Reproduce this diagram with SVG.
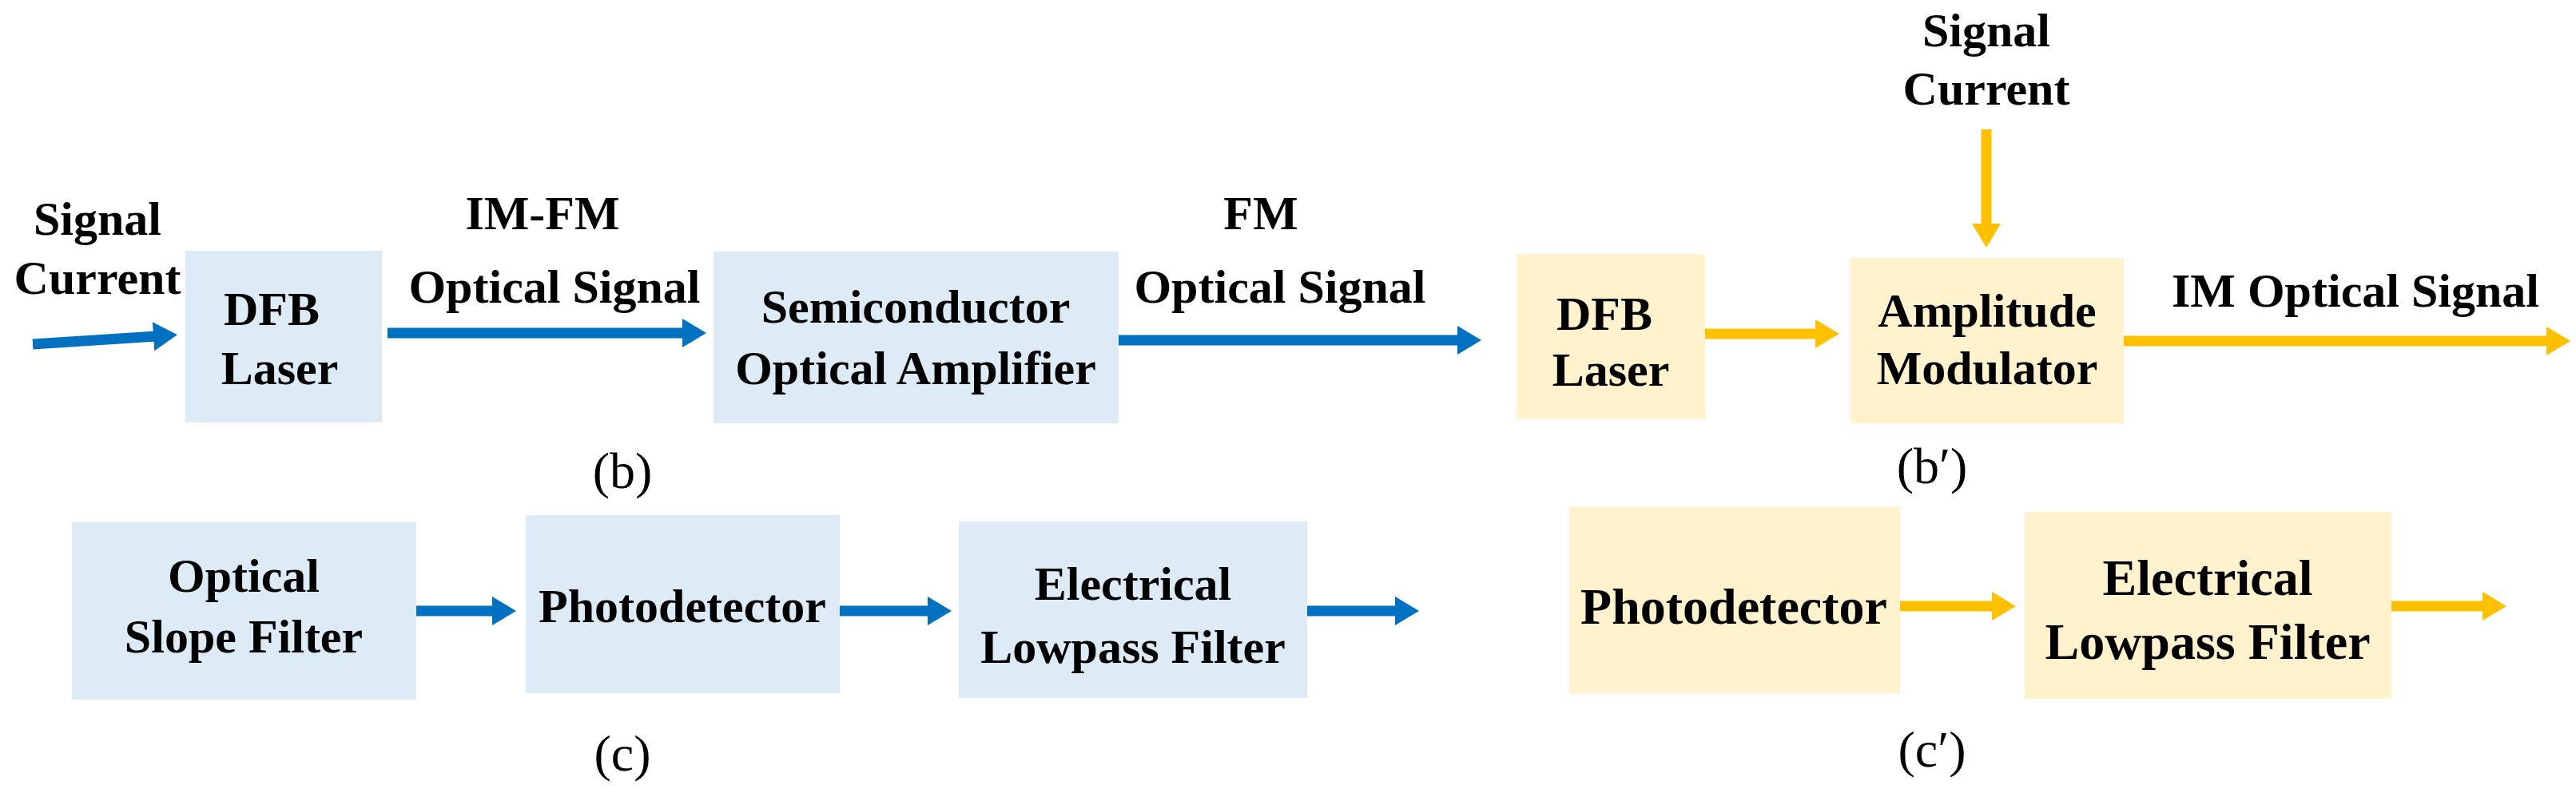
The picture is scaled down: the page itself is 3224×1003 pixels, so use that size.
<svg xmlns="http://www.w3.org/2000/svg" width="3224" height="1003" viewBox="0 0 3224 1003">
<style>
text{font-family:"Liberation Serif","Times New Roman",serif;font-weight:bold;font-size:60px;fill:#000;text-anchor:middle}
.lab{font-weight:normal;font-size:64px}
.bb{fill:#DDEBF7}
.yb{fill:#FFF2CC}
.ba{stroke:#0070C0;stroke-width:13;fill:none;marker-end:url(#mb)}
.ya{stroke:#FFC000;stroke-width:13;fill:none;marker-end:url(#my)}
</style>
<defs>
<marker id="mb" markerUnits="userSpaceOnUse" markerWidth="40" markerHeight="50" refX="4" refY="25" orient="auto"><polygon points="0,7 30,25 0,43" fill="#0070C0"/></marker>
<marker id="my" markerUnits="userSpaceOnUse" markerWidth="40" markerHeight="50" refX="4" refY="25" orient="auto"><polygon points="0,7 30,25 0,43" fill="#FFC000"/></marker>
</defs>
<rect width="3224" height="1003" fill="#fff"/>
<g id="dfb1"><rect class="bb" x="232" y="314" width="246" height="215"/><text x="340" y="407">DFB</text><text x="350" y="481">Laser</text></g>
<g id="soa"><rect class="bb" x="893" y="315" width="507" height="215"/><text x="1146" y="404">Semiconductor</text><text x="1146" y="481">Optical Amplifier</text></g>
<g id="osf"><rect class="bb" x="90" y="654" width="431" height="222"/><text x="305" y="741">Optical</text><text x="305" y="817">Slope Filter</text></g>
<g id="pd1"><rect class="bb" x="658" y="645" width="393" height="223"/><text x="854" y="779">Photodetector</text></g>
<g id="elf1"><rect class="bb" x="1200" y="653" width="436" height="221"/><text x="1418" y="751">Electrical</text><text x="1418" y="830">Lowpass Filter</text></g>
<g id="dfb2"><rect class="yb" x="1898" y="318" width="236" height="207"/><text x="2008" y="413">DFB</text><text x="2016" y="483">Laser</text></g>
<g id="am"><rect class="yb" x="2316" y="323" width="342" height="207"/><text x="2487" y="409">Amplitude</text><text x="2487" y="481">Modulator</text></g>
<g id="pd2"><rect class="yb" x="1964" y="635" width="414" height="233"/><text x="2170" y="781" style="font-size:64px">Photodetector</text></g>
<g id="elf2"><rect class="yb" x="2534" y="641" width="459" height="234"/><text x="2763" y="745" style="font-size:64px">Electrical</text><text x="2763" y="825" style="font-size:64px">Lowpass Filter</text></g>
<g id="labels">
<text x="122" y="294">Signal</text><text x="122" y="368">Current</text>
<text x="679" y="287">IM-FM</text><text x="694" y="379">Optical Signal</text>
<text x="1578" y="287">FM</text><text x="1602" y="379">Optical Signal</text>
<text x="2486" y="58">Signal</text><text x="2486" y="131">Current</text>
<text x="2948" y="384">IM Optical Signal</text>
<text class="lab" x="779" y="611">(b)</text>
<text class="lab" x="779" y="965">(c)</text>
<text class="lab" x="2418" y="605">(b′)</text>
<text class="lab" x="2418" y="960">(c′)</text>
</g>
<g id="connectors">
<line class="ba" x1="41" y1="431" x2="196" y2="421"/>
<line class="ba" x1="485" y1="417" x2="858" y2="417"/>
<line class="ba" x1="1400" y1="426" x2="1828" y2="426"/>
<line class="ba" x1="521" y1="765" x2="620" y2="765"/>
<line class="ba" x1="1051" y1="765" x2="1165" y2="765"/>
<line class="ba" x1="1636" y1="765" x2="1750" y2="765"/>
<line class="ya" x1="2134" y1="418" x2="2276" y2="418"/>
<line class="ya" x1="2486" y1="162" x2="2486" y2="284"/>
<line class="ya" x1="2658" y1="427" x2="3191" y2="427"/>
<line class="ya" x1="2378" y1="759" x2="2497" y2="759"/>
<line class="ya" x1="2993" y1="759" x2="3111" y2="759"/>
</g>
</svg>
